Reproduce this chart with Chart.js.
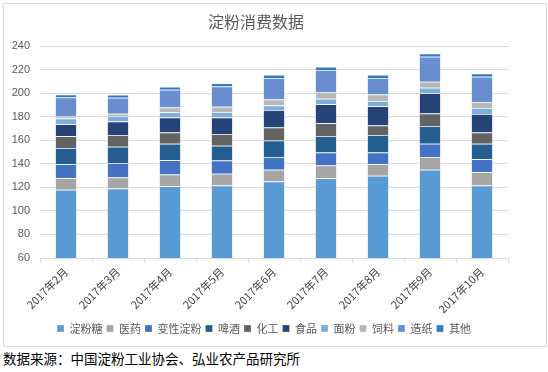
<!DOCTYPE html>
<html>
<head>
<meta charset="utf-8">
<script src="https://cdn.jsdelivr.net/npm/chart.js@4"></script>
<style>
  body { margin: 0; background: #fff; }
  #wrap { position: relative; width: 548px; height: 372px; }
  #box { position: absolute; left: 3px; top: 3px; width: 542px; height: 342px; border: 1px solid #d9d9d9; }
  #src { position: absolute; left: 3px; top: 348px; font: 13.5px "Noto Sans CJK SC", sans-serif; color: #000; }
</style>
</head>
<body>
<div id="wrap">
  <div id="box"><canvas id="c" width="542" height="342"></canvas></div>
  <div id="src">数据来源：中国淀粉工业协会、弘业农产品研究所</div>
</div>
<script>
const categories = ["2017年2月", "2017年3月", "2017年4月", "2017年5月", "2017年6月", "2017年7月", "2017年8月", "2017年9月", "2017年10月"];

const dianfentang = [118, 119, 121, 121.7, 125, 127.7, 130, 135, 121.7];
const yiyao       = [9.7, 9.5, 10, 10, 10, 10.9, 9.7, 10.8, 11.2];
const bianxing    = [12, 12, 12, 11.2, 10.8, 11.1, 10, 11.2, 11.1];
const pijiu       = [13.7, 14, 14, 12.5, 14, 14, 14.9, 15.1, 13.1];
const huagong     = [10, 10, 9.7, 10, 11.2, 10.9, 8, 10.6, 9.5];
const shipin      = [10.3, 11.4, 12.8, 14, 14.8, 16, 16.3, 17.4, 15.7];
const mianfen     = [4.9, 4.6, 4.3, 4.6, 3.7, 4.8, 4.5, 4.6, 5.1];
const siliao      = [1.7, 2, 4, 4.6, 5.2, 5.2, 5.5, 5.1, 5.2];
const zaozhi      = [16, 13.7, 15.2, 17.1, 18.3, 19.1, 14, 21.2, 21.4];
const qita        = [2.6, 2.6, 2.5, 2.9, 2.8, 2.9, 2.8, 2.8, 2.9];

const seriesNames = ["淀粉糖", "医药", "变性淀粉", "啤酒", "化工", "食品", "面粉", "饲料", "造纸", "其他"];
const seriesData = [dianfentang, yiyao, bianxing, pijiu, huagong, shipin, mianfen, siliao, zaozhi, qita];
const colors = ["#5b9bd5", "#a5a5a5", "#4472c4", "#255e91", "#636363", "#264478", "#7cafdd", "#b7b7b7", "#698ed0", "#327dc2"];

const yTicks = { min: 60, max: 240, step: 20 };

// nudge the legend a bit to the right, Excel centres it on the whole frame
const legendShift = {
  id: "legendShift",
  afterLayout(chart) {
    chart.legend.left += 8;
    chart.legend.right += 8;
  }
};

const ctx = document.getElementById("c").getContext("2d");
const chart = new Chart(ctx, {
  type: "bar",
  data: {
    labels: categories,
    datasets: seriesNames.map((name, i) => ({
      label: name,
      data: seriesData[i],
      backgroundColor: colors[i],
      borderColor: "rgba(255,255,255,0.35)",
      borderWidth: 0.75,
      barPercentage: 0.42,
      categoryPercentage: 1
    }))
  },
  options: {
    responsive: false,
    animation: false,
    layout: { padding: { left: 0, right: 38, top: 0, bottom: 2 } },
    scales: {
      x: {
        stacked: true,
        grid: { offset: true, drawOnChartArea: false, drawTicks: true, tickLength: 5, color: "#d9d9d9" },
        border: { color: "#d9d9d9" },
        ticks: {
          color: "#404040",
          font: { family: "Noto Sans CJK SC", size: 11 },
          minRotation: 45,
          maxRotation: 45,
          padding: 2
        },
        afterFit: (scale) => { scale.height = 61; }
      },
      y: {
        stacked: true,
        min: yTicks.min,
        max: yTicks.max,
        grid: { color: "#d9d9d9", drawTicks: false },
        border: { display: false },
        ticks: {
          stepSize: yTicks.step,
          color: "#595959",
          font: { family: "Liberation Sans", size: 11 },
          padding: 10
        },
        afterFit: (scale) => { scale.width = 36; }
      }
    },
    plugins: {
      title: {
        display: true,
        text: "淀粉消费数据",
        color: "#595959",
        font: { family: "Noto Sans CJK SC", size: 16, weight: "normal" },
        padding: { top: 8, bottom: 15 }
      },
      legend: {
        display: true,
        position: "bottom",
        labels: {
          boxWidth: 7,
          boxHeight: 7,
          padding: 4,
          color: "#595959",
          font: { family: "Noto Sans CJK SC", size: 11 }
        }
      },
      tooltip: { enabled: false }
    }
  },
  plugins: [legendShift]
});
</script>
</body>
</html>
